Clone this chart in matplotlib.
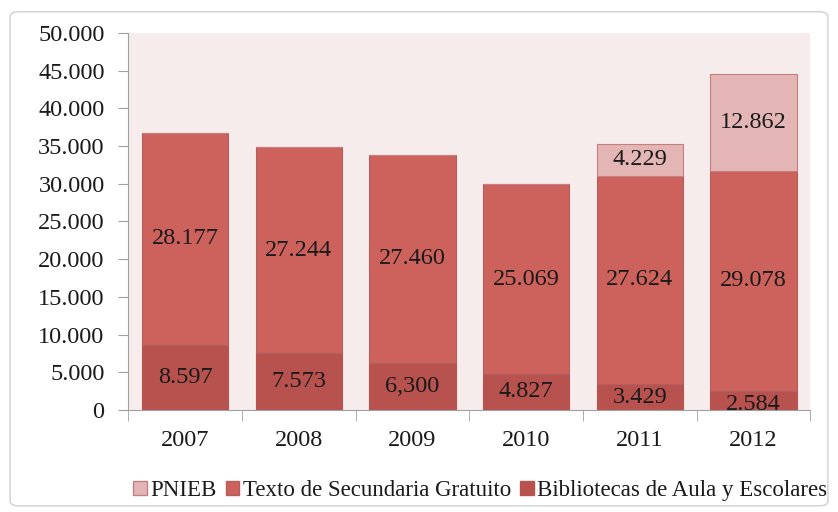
import numpy as np
import matplotlib.pyplot as plt
from matplotlib.patches import FancyBboxPatch, Patch

plt.rcParams['font.family'] = ['Liberation Serif', 'DejaVu Serif']

years = ["2007", "2008", "2009", "2010", "2011", "2012"]
bibliotecas = [8597, 7573, 6300, 4827, 3429, 2584]
texto = [28177, 27244, 27460, 25069, 27624, 29078]
pnieb = [0, 0, 0, 0, 4229, 12862]

bib_labels = ["8.597", "7.573", "6,300", "4.827", "3.429", "2.584"]
txt_labels = ["28.177", "27.244", "27.460", "25.069", "27.624", "29.078"]
pn_labels = ["", "", "", "", "4.229", "12.862"]

c_bib = "#B8524F"
c_txt = "#CD625D"
c_pn = "#E3B5B5"
edge = "#B06060"

fig = plt.figure(figsize=(8.38, 5.12), dpi=100)
fig.patches.append(FancyBboxPatch((0.012, 0.012), 0.976, 0.965,
                                  boxstyle="round,pad=0,rounding_size=0.01",
                                  transform=fig.transFigure, fill=False,
                                  edgecolor="#D0D0D0", linewidth=1))
ax = fig.add_axes([0.153, 0.199, 0.814, 0.737])
ax.set_facecolor("#F6ECEC")

x = np.arange(len(years))
w = 0.76
bot1 = np.array(bibliotecas)
bot2 = bot1 + np.array(texto)
ax.bar(x, bibliotecas, w, color=c_bib, edgecolor=c_bib, linewidth=0.8)
ax.bar(x, texto, w, bottom=bot1, color=c_txt, edgecolor=edge, linewidth=0.8)
ax.bar(x, pnieb, w, bottom=bot2, color=c_pn, edgecolor="#C48080", linewidth=0.8)

fs = 17.5
for i in range(len(years)):
    yb = bibliotecas[i] / 2
    if i == 5:
        yb = bibliotecas[i] / 2 - 500
    ax.text(x[i], yb, bib_labels[i], ha="center", va="center", fontsize=fs, color="#1a1a1a")
    ax.text(x[i], bot1[i] + texto[i] / 2, txt_labels[i], ha="center", va="center",
            fontsize=fs, color="#1a1a1a")
    if pnieb[i]:
        ax.text(x[i], bot2[i] + pnieb[i] / 2, pn_labels[i], ha="center", va="center",
                fontsize=fs, color="#1a1a1a")

ax.set_xlim(-0.5, 5.5)
ax.set_ylim(0, 50000)
ax.set_yticks(np.arange(0, 50001, 5000))
ax.set_yticklabels(["0"] + ["%d.000" % v for v in range(5, 51, 5)], fontsize=fs,
                   color="#1a1a1a")
ax.set_xticks(x)
ax.set_xticklabels(years, fontsize=fs, color="#1a1a1a")
ax.set_xticks(np.arange(-0.5, 6, 1), minor=True)
ax.tick_params(axis="x", which="major", length=0, pad=14)
ax.tick_params(axis="x", which="minor", length=8, color="#A0A0A0", direction="out")
ax.tick_params(axis="y", length=7, color="#A0A0A0", direction="out", pad=10)
for s in ["top", "right"]:
    ax.spines[s].set_visible(False)
for s in ["left", "bottom"]:
    ax.spines[s].set_color("#A0A0A0")

handles = [Patch(facecolor=c_pn, edgecolor="#C48080"),
           Patch(facecolor=c_txt, edgecolor=edge),
           Patch(facecolor=c_bib, edgecolor=c_bib)]
fig.legend(handles, ["PNIEB", "Texto de Secundaria Gratuito", "Bibliotecas de Aula y Escolares"],
           loc="center", bbox_to_anchor=(0.573, 0.042), ncol=3, frameon=False,
           fontsize=16.5, handlelength=0.6, handleheight=0.6, handletextpad=0.15,
           columnspacing=0.4, labelcolor="#1a1a1a")

fig.savefig("out.png", dpi=100)
